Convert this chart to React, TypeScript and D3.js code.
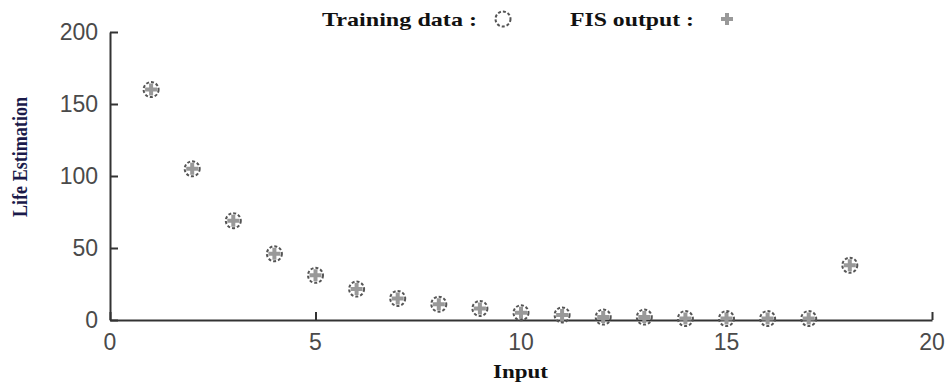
import React, { useEffect, useRef } from 'react'
import * as d3 from 'd3'

// readings
const inputs = [1, 2, 3, 4, 5, 6, 7, 8, 9, 10, 11, 12, 13, 14, 15, 16, 17, 18]
const trainingData = [160, 105, 69, 46, 31, 21.5, 15, 11, 8, 5, 3.5, 2, 2, 1, 1, 1, 1, 38]
const fisOutput = [160, 105, 69, 46, 31, 21.5, 15, 11, 8, 5, 3.5, 2, 2, 1, 1, 1, 1, 38]
const xTicks = [0, 5, 10, 15, 20]
const yTicks = [0, 50, 100, 150, 200]

const W = 951
const H = 382
const margin = { left: 110, right: 19, top: 32, bottom: 62 }
const serif = 'Liberation Serif, Times New Roman, serif'

function drawCircle(g: any, x: number, y: number) {
    g.append('circle')
        .attr('cx', x).attr('cy', y).attr('r', 7.5)
        .attr('fill', 'none')
        .attr('stroke', '#555')
        .attr('stroke-width', 2)
        .attr('stroke-dasharray', '3,2')
}

function drawPlus(g: any, x: number, y: number) {
    g.append('path')
        .attr('d', `M${x - 6},${y}H${x + 6}M${x},${y - 6}V${y + 6}`)
        .attr('stroke', '#999')
        .attr('stroke-width', 4)
        .attr('fill', 'none')
}

function App() {
    const ref = useRef<SVGSVGElement>(null)

    useEffect(() => {
        const svg = d3.select(ref.current)
        svg.selectAll('*').remove()

        const x = d3.scaleLinear().domain([0, 20]).range([margin.left, W - margin.right])
        const y = d3.scaleLinear().domain([0, 200]).range([H - margin.bottom, margin.top])

        // axes: inward ticks, left and bottom only
        const xAxis = svg.append('g')
            .attr('transform', `translate(0,${y(0)})`)
            .call(d3.axisTop(x).tickValues(xTicks).tickSize(8).tickSizeOuter(0).tickFormat(() => ''))
        xAxis.select('.domain').attr('stroke', '#333').attr('stroke-width', 2)
        xAxis.selectAll('line').attr('stroke', '#333').attr('stroke-width', 2)

        const yAxis = svg.append('g')
            .attr('transform', `translate(${x(0)},0)`)
            .call(d3.axisRight(y).tickValues(yTicks).tickSize(8).tickSizeOuter(0).tickFormat(() => ''))
        yAxis.select('.domain').attr('stroke', '#333').attr('stroke-width', 2)
        yAxis.selectAll('line').attr('stroke', '#333').attr('stroke-width', 2)

        // tick labels
        svg.append('g').selectAll('text').data(xTicks).join('text')
            .attr('x', d => x(d))
            .attr('y', 350)
            .attr('text-anchor', 'middle')
            .attr('font-family', 'Liberation Sans, Arial, sans-serif')
            .attr('font-size', 23)
            .attr('fill', '#4a4a4a')
            .text(d => d)

        svg.append('g').selectAll('text').data(yTicks).join('text')
            .attr('x', 98)
            .attr('y', d => y(d) + 8)
            .attr('text-anchor', 'end')
            .attr('font-family', 'Liberation Sans, Arial, sans-serif')
            .attr('font-size', 23)
            .attr('fill', '#4a4a4a')
            .text(d => d)

        // axis titles
        svg.append('text')
            .attr('x', 493).attr('y', 378)
            .attr('font-family', serif)
            .attr('font-weight', 'bold')
            .attr('font-size', 19)
            .attr('textLength', 55)
            .attr('lengthAdjust', 'spacingAndGlyphs')
            .attr('fill', '#111')
            .text('Input')

        svg.append('text')
            .attr('transform', 'translate(27,217) rotate(-90)')
            .attr('font-family', serif)
            .attr('font-weight', 'bold')
            .attr('font-size', 20)
            .attr('textLength', 120)
            .attr('lengthAdjust', 'spacingAndGlyphs')
            .attr('fill', '#1a1a4a')
            .text('Life Estimation')

        // data
        const marks = svg.append('g')
        inputs.forEach((d, i) => {
            drawPlus(marks, x(d), y(fisOutput[i]))
            drawCircle(marks, x(d), y(trainingData[i]))
        })

        // legend
        const legend = svg.append('g')
            .attr('font-family', serif)
            .attr('font-weight', 'bold')
            .attr('font-size', 19)
            .attr('fill', '#111')
        legend.append('text').attr('x', 322).attr('y', 26)
            .attr('textLength', 155).attr('lengthAdjust', 'spacingAndGlyphs')
            .text('Training data :')
        drawCircle(legend, 503, 19)
        legend.append('text').attr('x', 570).attr('y', 26)
            .attr('textLength', 124).attr('lengthAdjust', 'spacingAndGlyphs')
            .text('FIS output :')
        drawPlus(legend, 727, 19)
    }, [])

    return <svg ref={ref} width={W} height={H} style={{ position: 'absolute', left: 0, top: 0 }} />
}

export default App
